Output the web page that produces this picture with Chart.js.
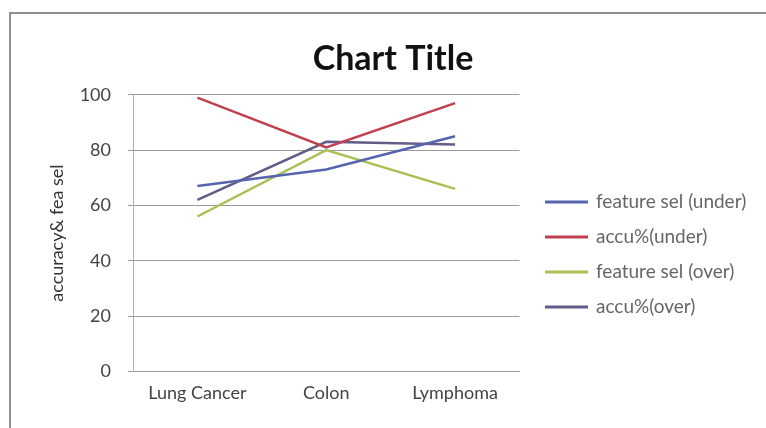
<!DOCTYPE html>
<html>
<head>
<meta charset="utf-8">
<script src="https://cdn.jsdelivr.net/npm/chart.js@4.4.1/dist/chart.umd.min.js"></script>
<style>
  html, body { margin: 0; padding: 0; background: #fff; overflow: hidden; }
  #wrap { position: relative; width: 766px; height: 428px; }
  #frame {
    position: absolute; left: 9px; top: 12px; width: 900px; height: 600px;
    border: 2px solid #8e8e8e; box-sizing: border-box;
  }
  #chart { position: absolute; left: 0; top: 0; }
</style>
</head>
<body>
<div id="wrap">
  <div id="frame"></div>
  <canvas id="chart" width="766" height="428"></canvas>
</div>
<script>
const canvasChart = document.getElementById('chart');

const categories = ['Lung Cancer', 'Colon', 'Lymphoma'];
const seriesNames = ['feature sel (under)', 'accu%(under)', 'feature sel (over)', 'accu%(over)'];
const featSelUnder = [67, 73, 85];
const accuUnder = [99, 81, 97];
const featSelOver = [56, 80, 66];
const accuOver = [62, 83, 82];
const yTicks = [0, 20, 40, 60, 80, 100];

const colors = ['#5664ad', '#c0404f', '#a9c055', '#625c88'];
const values = [featSelUnder, accuUnder, featSelOver, accuOver];

const datasets = [];
for (let i = 0; i < values.length; i++) {
  datasets.push({
    label: seriesNames[i],
    data: values[i],
    borderColor: colors[i],
    backgroundColor: colors[i],
    borderWidth: 2.5,
    pointRadius: 0,
    tension: 0,
    yAxisID: 'y'
  });
}

const textFont = 'Lato, "Open Sans", sans-serif';

// legend on the right: short line + series name, one row per dataset
const sideLegend = {
  id: 'sideLegend',
  afterDraw(chart) {
    const ctx = chart.ctx;
    const area = chart.chartArea;
    const x0 = area.right + 25.5;
    const rowGap = 35;
    const y0 = (area.top + area.bottom) / 2 - rowGap * 1.5 + 21.5;
    ctx.save();
    ctx.font = '19px ' + textFont;
    ctx.textBaseline = 'middle';
    ctx.textAlign = 'left';
    chart.data.datasets.forEach((ds, i) => {
      const y = y0 + i * rowGap;
      ctx.strokeStyle = ds.borderColor;
      ctx.lineWidth = 3;
      ctx.beginPath();
      ctx.moveTo(x0, y);
      ctx.lineTo(x0 + 43, y);
      ctx.stroke();
      ctx.fillStyle = '#666';
      ctx.fillText(ds.label, x0 + 51, y);
    });
    ctx.restore();
  }
};

const chart = new Chart(canvasChart, {
  type: 'line',
  data: {
    labels: categories,
    datasets: datasets
  },
  options: {
    responsive: false,
    devicePixelRatio: 1,
    animation: false,
    layout: {
      padding: { top: 39, left: 46, right: 26, bottom: 13 }
    },
    scales: {
      x: {
        offset: true,
        grid: { display: false, drawTicks: false },
        border: { color: '#9a9a9a', width: 1 },
        ticks: { color: '#444', padding: 11, font: { family: textFont, size: 18 } }
      },
      y: {
        min: 0,
        max: 100,
        afterBuildTicks: (scale) => {
          scale.ticks = yTicks.map(v => ({ value: v }));
        },
        afterFit: (scale) => {
          scale.width = 133 - 46;
        },
        grid: { color: '#9a9a9a', lineWidth: 1, tickLength: 5 },
        border: { color: '#b0b0b0', width: 1 },
        ticks: { color: '#444', padding: 17, font: { family: textFont, size: 18 } },
        title: {
          display: true,
          text: 'accuracy& fea sel',
          color: '#333',
          padding: 0,
          font: { family: textFont, size: 18 }
        }
      },
      // empty right-hand box that leaves room for the legend
      side: {
        position: 'right',
        display: true,
        grid: { display: false },
        border: { display: false },
        ticks: { display: false },
        afterFit: (scale) => {
          scale.width = 766 - 26 - 519.5;
        }
      }
    },
    plugins: {
      title: {
        display: true,
        text: 'Chart Title',
        color: '#111',
        padding: { top: 0, bottom: 15 },
        font: { family: textFont, size: 34, weight: 'bold', lineHeight: 1.2 }
      },
      legend: { display: false },
      tooltip: { enabled: false }
    }
  },
  plugins: [sideLegend]
});
</script>
</body>
</html>
